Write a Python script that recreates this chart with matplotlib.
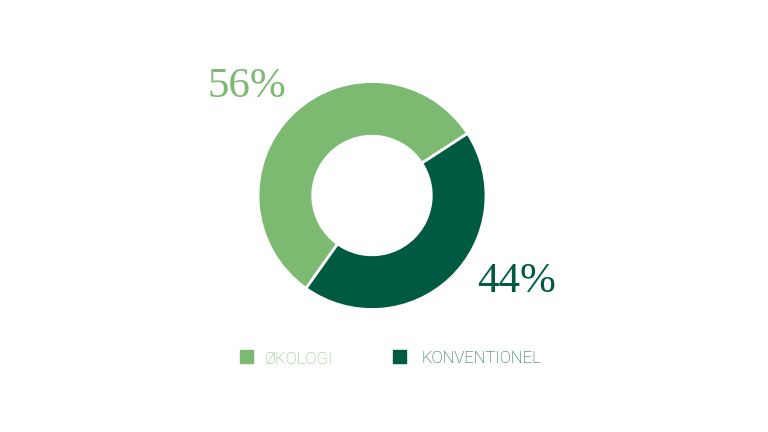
import matplotlib
matplotlib.use("Agg")
from matplotlib import pyplot as plt
from matplotlib.patches import Rectangle

# data
labels = ["ØKOLOGI", "KONVENTIONEL"]
values = [56, 44]
colors = ["#7cba72", "#005a41"]

fig = plt.figure(figsize=(7.68, 4.32), dpi=100)
ax = fig.add_axes([0, 0, 1, 1])

cx, cy, r = 372, 236.5, 114
ax.pie(values, colors=colors, startangle=33, counterclock=True,
       center=(cx, cy), radius=r, frame=True,
       wedgeprops=dict(width=r * 0.48, edgecolor="white", linewidth=2))
ax.set_xlim(0, 768)
ax.set_ylim(0, 432)
ax.axis("off")

# percent labels
ax.text(207, 335, "%d%%" % values[0], color=colors[0], fontsize=31,
        family="Liberation Serif", ha="left", va="baseline")
ax.text(477, 140, "%d%%" % values[1], color=colors[1], fontsize=31,
        family="Liberation Serif", ha="left", va="baseline")

# legend
sqx = [240, 393]
txtx = [265, 421]
for i in range(len(labels)):
    ax.add_patch(Rectangle((sqx[i], 69), 13, 13, color=colors[i]))
    ax.text(txtx[i], 69, labels[i], color=colors[i], fontsize=12,
            family="Roboto", fontweight="light", ha="left", va="baseline")

fig.savefig("out.png", dpi=100)
